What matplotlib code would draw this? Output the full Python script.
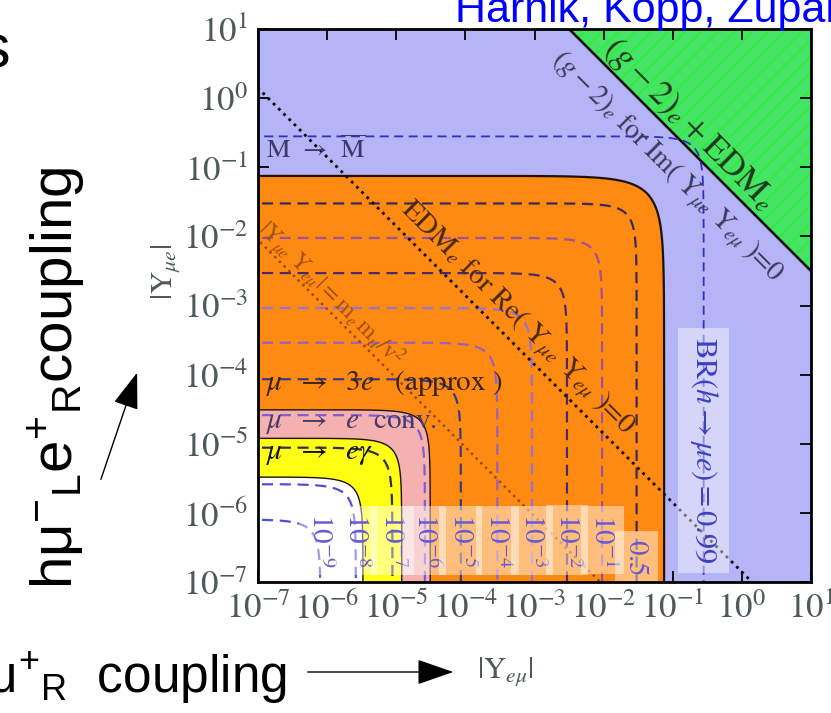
import numpy as np
import matplotlib.pyplot as plt

plt.rcParams['font.family'] = ['Liberation Sans', 'DejaVu Sans']
plt.rcParams['mathtext.fontset'] = 'custom'
plt.rcParams['mathtext.rm'] = 'Liberation Sans'
plt.rcParams['mathtext.it'] = 'Liberation Sans:italic'
plt.rcParams['mathtext.bf'] = 'Liberation Sans:bold'
plt.rcParams['hatch.linewidth'] = 1.0

# excluded regions: size of the rounded corner in the (|Y_emu|, |Y_mue|) plane
region_radius = [0.075, 3.1e-5, 1.2e-5, 3.3e-6]
region_power = [1.2, 2, 2, 2]
region_colors = ['#ff8a12', '#f5b0b0', '#ffff14', '#ffffff']
region_text = [r'$\mu\ \ \rightarrow\ \ 3e\ \ $' + r' (approx )',
               r'$\mu\ \ \rightarrow\ \ e$  conv.',
               r'$\mu\ \ \rightarrow\ \ e\gamma$']
region_text_y = [7.6e-5, 2.0e-5, 6.9e-6]
region_text_col = ['#3a2410', '#4a3a6a', '#151515']

# BR(h -> mu e) contours
br_labels = [r'$10^{-9}$', r'$10^{-8}$', r'$10^{-7}$', r'$10^{-6}$', r'$10^{-5}$',
             r'$10^{-4}$', r'$10^{-3}$', r'$10^{-2}$', r'$10^{-1}$', r'$0.5$']
br_radius = [8.0e-7, 2.6e-6, 8.8e-6, 2.6e-5, 8.6e-5, 2.9e-4, 9.2e-4, 2.95e-3, 9.5e-3, 3.0e-2]
br_colors = ['#5050d0', '#5050d0', '#303050', '#8060c8', '#3a3a80',
             '#9a60c0', '#9a70d0', '#4a2a6a', '#a0509a', '#3a2a5a']
br_099 = 0.28

# lines |Y_emu Y_mue| = const
green_product = 0.0316
edm_product = 1.4e-7
mass_product = 8.9e-10

ticks = [1e-7, 1e-6, 1e-5, 1e-4, 1e-3, 1e-2, 1e-1, 1e0, 1e1]
tick_labels = [r'$10^{-7}$', r'$10^{-6}$', r'$10^{-5}$', r'$10^{-4}$', r'$10^{-3}$',
               r'$10^{-2}$', r'$10^{-1}$', r'$10^{0}$', r'$10^{1}$']


def rounded(r, p):
    a = r / 2 ** (1 / p)
    s = np.logspace(-9, np.log10(a), 300)
    t = (r ** p - s ** p) ** (1 / p)
    return np.concatenate([s, t[::-1]]), np.concatenate([t, s[::-1]])


W, H = 831, 713
fig = plt.figure(figsize=(W / 100, H / 100), dpi=100)
ax = fig.add_axes([258 / W, 1 - 582 / H, 553 / W, 553 / H])
ax.set_xscale('log')
ax.set_yscale('log')
ax.set_facecolor('#b4b4f6')

xs = np.logspace(-9, 2, 200)
# green (g-2)_e + EDM_e region
gx = np.r_[xs, 100]
gy = np.r_[green_product / xs, 100]
ax.fill(gx, gy, facecolor='#46e466', edgecolor='#2cf02c', hatch='//', lw=0, zorder=1)
ax.plot(xs, green_product / xs, color='black', lw=1.8, zorder=2)

for i, (r, p, c) in enumerate(zip(region_radius, region_power, region_colors)):
    x, y = rounded(r, p)
    ax.fill(np.r_[1e-9, x], np.r_[1e-9, y], color=c, lw=0, zorder=3 + i)
    ax.plot(x, y, color='#201008', lw=1.6 if i == 0 else 1.0, zorder=3 + i)

for r, c in zip(br_radius, br_colors):
    x, y = rounded(r, 2)
    ax.plot(x, y, color=c, lw=1.6, ls=(0, (5, 3)), zorder=8)
x, y = rounded(br_099, 2)
ax.plot(x, y, color='#3030c8', lw=1.3, ls=(0, (5, 3)), zorder=8)

ax.plot(xs, edm_product / xs, color='black', ls=':', lw=2, zorder=9)
ax.plot(xs, mass_product / xs, color='#9a4a10', ls=':', lw=1.8, zorder=9)

serif = 'STIXGeneral'
for txt, yy, col in zip(region_text, region_text_y, region_text_col):
    ax.text(1.3e-7, yy, txt, fontsize=21, color=col, family=serif,
            math_fontfamily='stix', va='center', ha='left', zorder=10)

ax.text(1.3e-7, 0.18, 'M  \u2192  ' + r'$\overline{\mathrm{M}}$', fontsize=19,
        color='#3c3c6c', family=serif, math_fontfamily='stix', va='center',
        ha='left', zorder=10)
ax.text(0.17, 0.42, r'$(g-2)_e + \mathrm{EDM}_e$', fontsize=25, color='#1e3a1e',
        math_fontfamily='stix', rotation=-45, rotation_mode='anchor',
        ha='center', va='center', zorder=10)
ax.text(0.08, 0.1, r'$(g-2)_e$ for Im( Y$_{\mu e}$ Y$_{e\mu}$ )=0', fontsize=20,
        color='#3a3a5a', family=serif, math_fontfamily='stix', rotation=-45,
        rotation_mode='anchor', ha='center', va='center', zorder=10)
ax.text(5.6e-4, 6.6e-4, r'EDM$_e$ for Re( Y$_{\mu e}$ Y$_{e\mu}$ )=0', fontsize=21,
        color='#4a2a10', family=serif, math_fontfamily='stix', rotation=-45,
        rotation_mode='anchor', ha='center', va='center', zorder=10)
ax.text(1.1e-6, 1.4e-3, r'$|\mathrm{Y}_{\mu e}\ \mathrm{Y}_{e\mu}|=\mathrm{m}_e\,\mathrm{m}_\mu/\mathrm{v}^2$',
        fontsize=17, color='#a05010', math_fontfamily='stix', rotation=-45,
        rotation_mode='anchor', ha='center', va='center', zorder=10)

for lab, r, c in zip(br_labels, br_radius, br_colors):
    yy = 2.3e-7 if lab == r'$0.5$' else 4.0e-7
    ax.text(r, yy, lab, fontsize=21, color='#6a5ad0', math_fontfamily='stix',
            rotation=-90, ha='center', va='center', zorder=11,
            bbox=dict(boxstyle='square,pad=0.25', fc='white', ec='none', alpha=0.45))
ax.text(br_099, 8.1e-6, r'BR$(h\rightarrow\mu e) = 0.99$', fontsize=22, color='#4040c0',
        family=serif, math_fontfamily='stix', rotation=-90, ha='center', va='center',
        zorder=11, bbox=dict(boxstyle='square,pad=0.3', fc='white', ec='none', alpha=0.45))

ax.set_xlim(1e-7, 1e1)
ax.set_ylim(1e-7, 1e1)
ax.set_xticks(ticks, labels=tick_labels)
ax.set_yticks(ticks, labels=tick_labels)
for lab in ax.get_xticklabels() + ax.get_yticklabels():
    lab.set_math_fontfamily('stix')
ax.tick_params(which='both', direction='in', top=True, right=True, width=1.3,
               labelsize=25, labelcolor='#4e5a5a', color='black')
ax.tick_params(which='major', length=8, pad=7)
ax.tick_params(which='minor', length=4)
for s in ax.spines.values():
    s.set_linewidth(2)
    s.set_zorder(20)

fig.text(165 / W, 1 - 272 / H, r'$|\mathrm{Y}_{\mu e}|$', rotation=90, fontsize=22,
         color='#4e5a5a', math_fontfamily='stix', ha='center', va='center')
fig.text(505 / W, 1 - 672 / H, r'$|\mathrm{Y}_{e\mu}|$', fontsize=22,
         color='#4e5a5a', math_fontfamily='stix', ha='center', va='center')

# slide decorations
fig.text(455 / W, 1 - 22 / H, 'Harnik, Kopp, Zupan', fontsize=31, color='#0000ff',
         ha='left', va='baseline')
fig.text(10 / W, 1 - 67 / H, 's', fontsize=44, color='black', ha='right', va='baseline')
fig.text(56 / W, 1 - 378 / H,
         r'h$\mathrm{\mu}^{-}{}_{\mathrm{L}}$e$^{+}{}_{\mathrm{R}}$coupling',
         rotation=90, fontsize=42, ha='center', va='center')
fig.text(287 / W, 1 - 693 / H,
         r'he$^{-}{}_{\mathrm{L}}\mathrm{\mu}^{+}{}_{\mathrm{R}}$  coupling',
         fontsize=37, ha='right', va='baseline')
ax.annotate('', xy=(456, H - 672), xytext=(305, H - 672), xycoords='figure pixels',
            textcoords='figure pixels', annotation_clip=False,
            arrowprops=dict(arrowstyle='-|>,head_length=1.15,head_width=0.4',
                            color='black', lw=1, mutation_scale=20))
ax.annotate('', xy=(138, H - 370), xytext=(100, H - 482), xycoords='figure pixels',
            textcoords='figure pixels', annotation_clip=False,
            arrowprops=dict(arrowstyle='-|>,head_length=1.15,head_width=0.4',
                            color='black', lw=1, mutation_scale=20))

plt.savefig('out.png', dpi=100)
